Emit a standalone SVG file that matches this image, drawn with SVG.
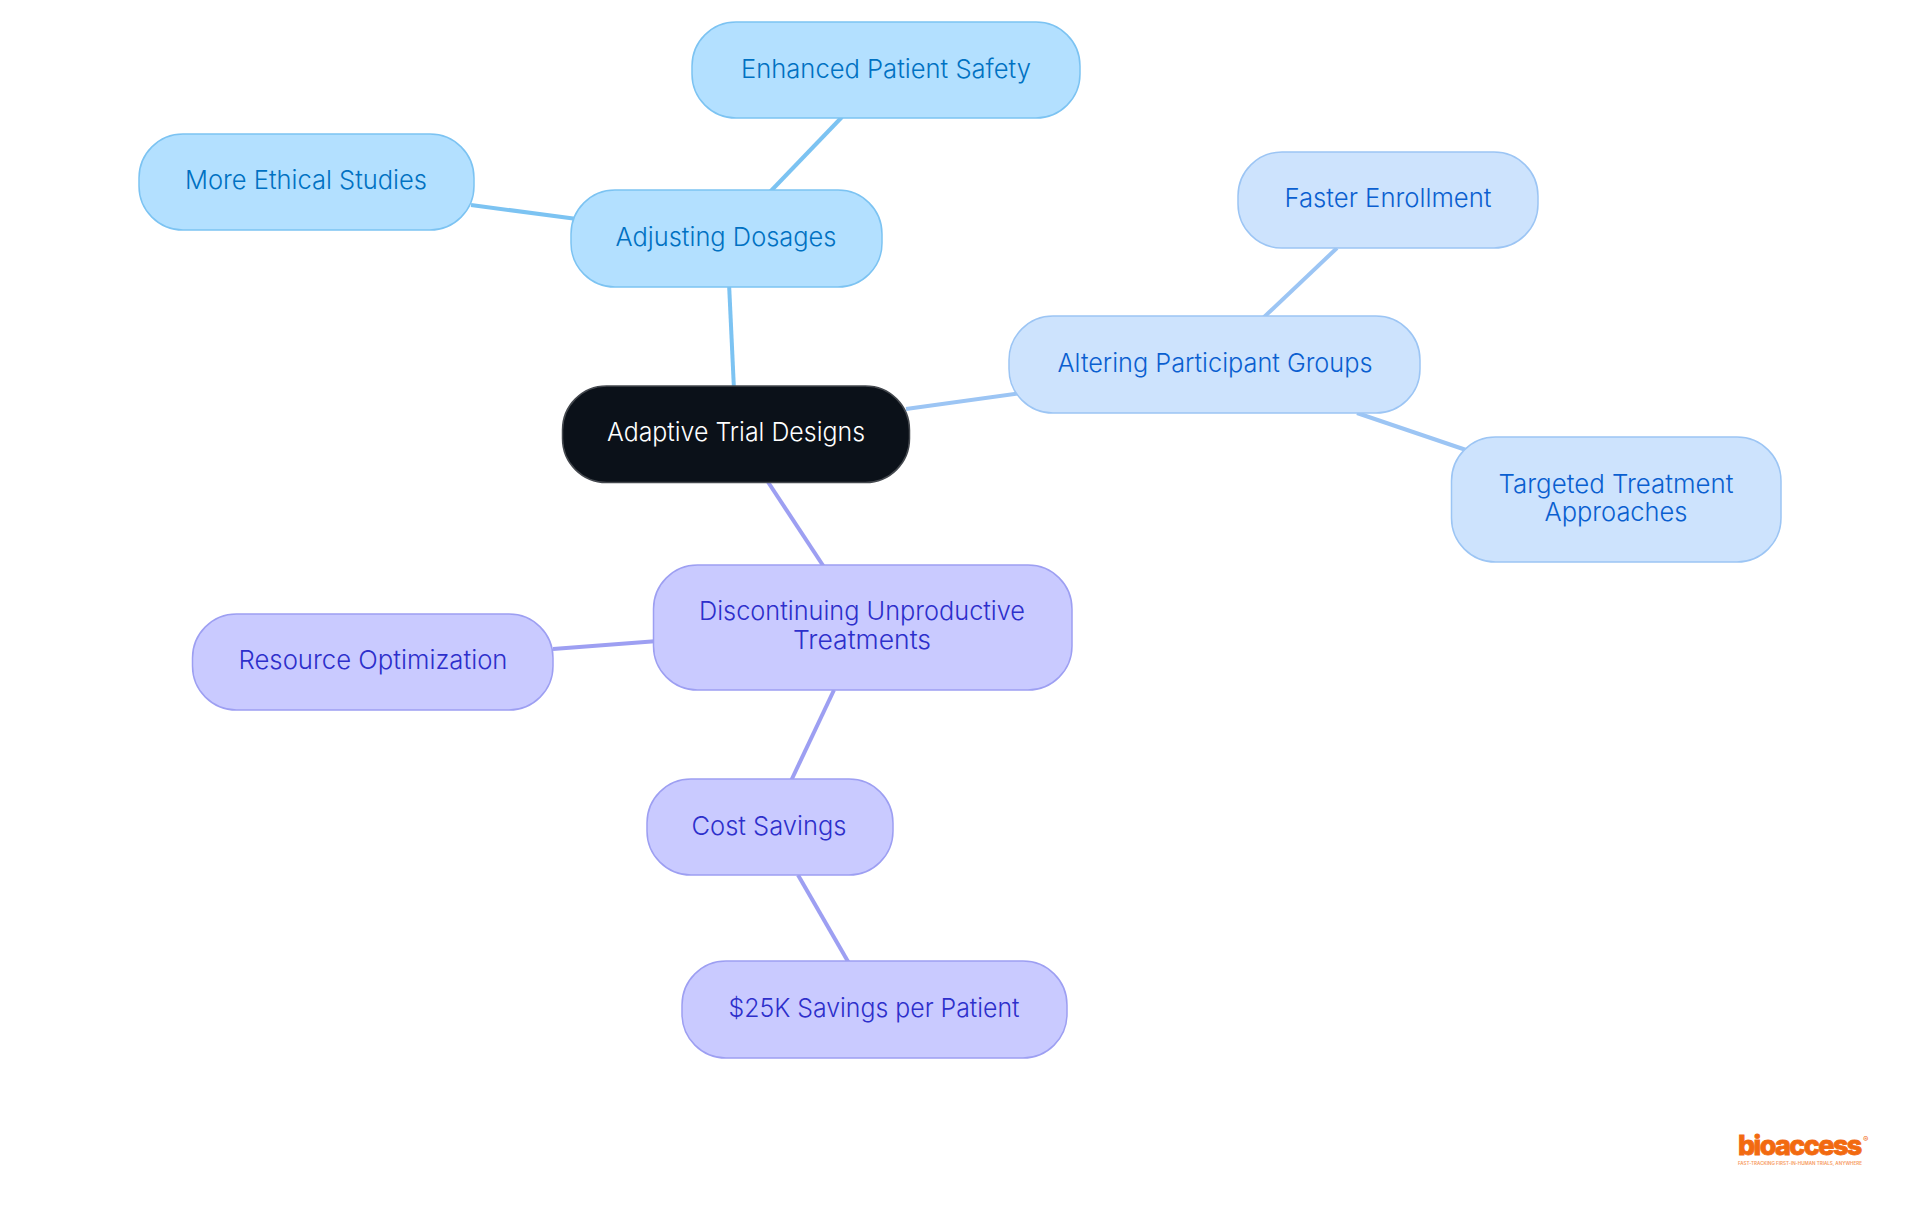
<svg xmlns="http://www.w3.org/2000/svg" width="1920" height="1215" viewBox="0 0 1920 1215">
<style>
text{font-family:Inter,"Noto Sans","Liberation Sans",sans-serif;font-size:26px;font-weight:350;text-anchor:middle}
.n{stroke-width:1.5}
.a rect{fill:#b3e0ff;stroke:#7cc3f2}.a text{fill:#0071c2}
.b rect{fill:#cde3fd;stroke:#9cc5f4}.b text{fill:#0a5fd0}
.c rect{fill:#c9caff;stroke:#9d9ff2}.c text{fill:#2d2fcb}
.l{fill:none;stroke-width:4}
</style>
<rect width="1920" height="1215" fill="#fff"/>
<g id="connectors" class="l">
<path d="M734 390L729 283" stroke="#7cc3f2"/>
<path d="M768 194L842 117" stroke="#7cc3f2"/>
<path d="M577 219L471 205" stroke="#7cc3f2"/>
<path d="M906 409L1022 393" stroke="#9cc5f4"/>
<path d="M1261 320L1337 248" stroke="#9cc5f4"/>
<path d="M1357 413L1472 452" stroke="#9cc5f4"/>
<path d="M768 482L826 570" stroke="#9d9ff2"/>
<path d="M658 641L553 649" stroke="#9d9ff2"/>
<path d="M834 690L790 783" stroke="#9d9ff2"/>
<path d="M798 875L850 965" stroke="#9d9ff2"/>
</g>
<g id="root"><rect x="562.500" y="386" width="347" height="96.500" rx="44" fill="#0b1119" stroke="#44484e" stroke-width="1.5"/><text x="736" y="441" fill="#fff" textLength="258" lengthAdjust="spacingAndGlyphs">Adaptive Trial Designs</text></g>
<g id="adjusting" class="a n"><rect x="571" y="190" width="311" height="97" rx="44"/><text x="726" y="246" textLength="221" lengthAdjust="spacingAndGlyphs">Adjusting Dosages</text></g>
<g id="safety" class="a n"><rect x="692" y="22" width="388" height="96" rx="44"/><text x="886" y="78" textLength="290" lengthAdjust="spacingAndGlyphs">Enhanced Patient Safety</text></g>
<g id="ethical" class="a n"><rect x="139" y="134" width="335" height="96" rx="44"/><text x="306" y="189" textLength="242" lengthAdjust="spacingAndGlyphs">More Ethical Studies</text></g>
<g id="altering" class="b n"><rect x="1009" y="316" width="411" height="97" rx="44"/><text x="1215" y="372" textLength="315" lengthAdjust="spacingAndGlyphs">Altering Participant Groups</text></g>
<g id="enrollment" class="b n"><rect x="1238" y="152" width="300" height="96" rx="44"/><text x="1388" y="207" textLength="207" lengthAdjust="spacingAndGlyphs">Faster Enrollment</text></g>
<g id="targeted" class="b n"><rect x="1451.500" y="437" width="329.500" height="125" rx="44"/><text x="1616" y="493" textLength="235" lengthAdjust="spacingAndGlyphs">Targeted Treatment</text><text x="1616" y="521" textLength="143" lengthAdjust="spacingAndGlyphs">Approaches</text></g>
<g id="discontinuing" class="c n"><rect x="653.500" y="565" width="418.500" height="125" rx="44"/><text x="862" y="620" textLength="326" lengthAdjust="spacingAndGlyphs">Discontinuing Unproductive</text><text x="862" y="649" textLength="138" lengthAdjust="spacingAndGlyphs">Treatments</text></g>
<g id="resource" class="c n"><rect x="192.500" y="614" width="360.500" height="96" rx="44"/><text x="373" y="669" textLength="269" lengthAdjust="spacingAndGlyphs">Resource Optimization</text></g>
<g id="cost" class="c n"><rect x="647" y="779" width="246" height="96" rx="44"/><text x="769" y="835" textLength="155" lengthAdjust="spacingAndGlyphs">Cost Savings</text></g>
<g id="savings" class="c n"><rect x="682" y="961" width="385" height="97" rx="44"/><text x="874" y="1017" textLength="291" lengthAdjust="spacingAndGlyphs">$25K Savings per Patient</text></g>
<g id="logo">
<text x="1738" y="1155" style="font-size:27px;font-weight:800;letter-spacing:-1.600px;text-anchor:start;fill:#f26a10;stroke:#f26a10;stroke-width:.8">bioaccess</text>
<text x="1863" y="1142" style="font-size:8px;font-weight:400;text-anchor:start;fill:#f26a10">®</text>
<text x="1738" y="1164.500" textLength="124" lengthAdjust="spacingAndGlyphs" style="font-size:4.500px;font-weight:600;text-anchor:start;fill:#f79a5e">FAST-TRACKING FIRST-IN-HUMAN TRIALS, ANYWHERE</text>
</g>
</svg>
